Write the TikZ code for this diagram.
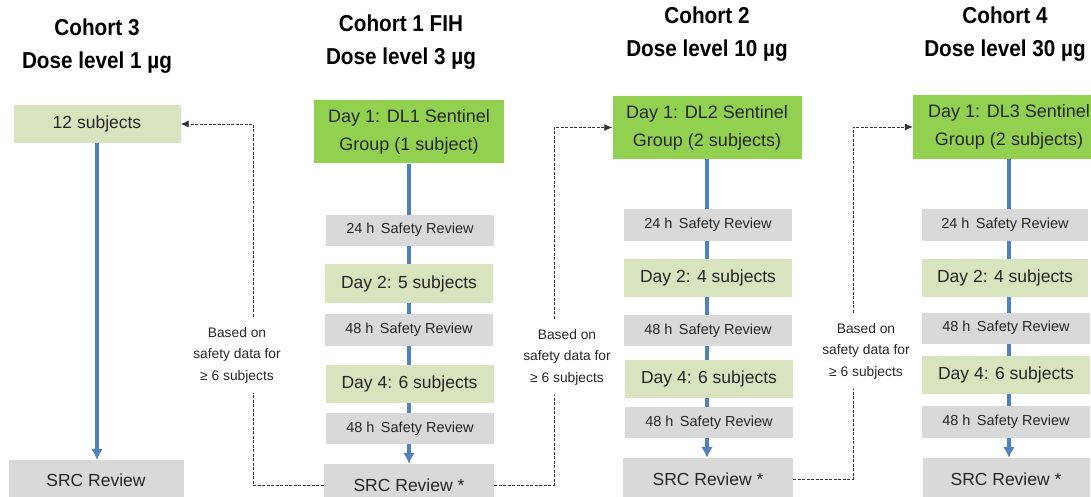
\documentclass[tikz,border=0pt]{standalone}
\usepackage{fontspec}
\setmainfont{Liberation Sans}
\newfontfamily\headfont[FakeStretch=0.9]{Liberation Sans}
\usetikzlibrary{backgrounds,arrows.meta}
\definecolor{sentinelgreen}{HTML}{92D050}
\definecolor{dosegreen}{HTML}{D7E4BD}
\definecolor{reviewgray}{HTML}{D9D9D9}
\definecolor{flowblue}{HTML}{4F81BD}

\begin{document}
\begin{tikzpicture}[x=1pt,y=-1pt,
		head/.style={font=\headfont\bfseries\fontsize{23}{33}\selectfont,align=center},
		sentinel/.style={fill=sentinelgreen,minimum width=189,minimum height=63,inner sep=0,align=center,text=black!85,font=\fontsize{18}{28}\selectfont},
		dose/.style={fill=dosegreen,minimum width=168,minimum height=38,inner sep=0,text=black!85,font=\fontsize{17.5}{20}\selectfont},
		review/.style={fill=reviewgray,minimum width=168,minimum height=31,inner sep=0,text=black!85,font=\fontsize{14.5}{16}\selectfont},
		src/.style={fill=reviewgray,minimum width=170,minimum height=42,inner sep=0,text=black!85,font=\fontsize{17.5}{20}\selectfont},
		note/.style={align=center,inner sep=10,text=black!85,font=\fontsize{13.8}{21.5}\selectfont},
		flow/.style={draw=flowblue,line width=3.5pt,-{Latex[length=11pt,width=12pt]}},
		link/.style={draw=black!80,line width=0.8pt,dash pattern=on 3pt off 1.5pt}]
		\useasboundingbox (0,0) rectangle (1091,497);
		% headings
		\node[head](h3) at (97,46) {Cohort 3\\Dose level 1 µg};
		\node[head](h1) at (401,42) {Cohort 1 FIH\\Dose level 3 µg};
		\node[head](h2) at (707,34) {Cohort 2\\Dose level 10 µg};
		\node[head](h4) at (1005,34) {Cohort 4\\Dose level 30 µg};
		% cohort 3
		\node[dose,minimum width=167](c3sub) at (97,124) {12 subjects};
		\node[src,minimum width=175,minimum height=40](c3src) at (96,480) {SRC Review};
		% cohort 1
		\node[sentinel,minimum width=190](d1a) at (409,132) {Day 1: DL1 Sentinel\\Group (1 subject)};
		\node[review](s24a) at (410,230) {24 h\, Safety Review};
		\node[dose,minimum height=39](d2a) at (409,283.5) {Day 2: 5 subjects};
		\node[review,minimum height=32](s48a) at (409,330) {48 h\, Safety Review};
		\node[dose](d4a) at (409.5,384) {Day 4: 6 subjects};
		\node[review](s48b) at (410,428.5) {48 h\, Safety Review};
		\node[src](srca) at (409,485) {SRC Review *};
		% cohort 2
		\node[sentinel](d1b) at (707,127.5) {Day 1: DL2 Sentinel\\Group (2 subjects)};
		\node[review,minimum height=32](s24b) at (708,225) {24 h\, Safety Review};
		\node[dose](d2b) at (708,278) {Day 2: 4 subjects};
		\node[review](s48c) at (708,330.5) {48 h\, Safety Review};
		\node[dose](d4b) at (709,379) {Day 4: 6 subjects};
		\node[review](s48d) at (709,422.5) {48 h\, Safety Review};
		\node[src](srcb) at (708,479) {SRC Review *};
		% cohort 4
		\node[sentinel,minimum width=192,minimum height=64](d1c) at (1009,127) {Day 1: DL3 Sentinel\\Group (2 subjects)};
		\node[review,minimum width=166,minimum height=32](s24c) at (1005,225) {24 h\, Safety Review};
		\node[dose,minimum width=166](d2c) at (1005,278) {Day 2: 4 subjects};
		\node[review](s48e) at (1006,328) {48 h\, Safety Review};
		\node[dose](d4c) at (1006,375) {Day 4: 6 subjects};
		\node[review,minimum height=32](s48f) at (1006,422) {48 h\, Safety Review};
		\node[src,minimum width=167](srcc) at (1006,479) {SRC Review *};
		% escalation notes
		\node[note](noteA) at (237,355) {Based on\\safety data for\\≥ 6 subjects};
		\node[note](noteB) at (567,357) {Based on\\safety data for\\≥ 6 subjects};
		\node[note](noteC) at (866,351) {Based on\\safety data for\\≥ 6 subjects};
		\begin{scope}[on background layer]
			\draw[flow] (c3sub) -- (c3sub |- c3src.north);
			\draw[flow] (d1a) -- (d1a |- srca.north);
			\draw[flow] (d1b) -- (d1b |- srcb.north);
			\draw[flow] (d1c) -- (d1c |- srcc.north);
		\end{scope}
		\draw[link] (srca.west) -| ([xshift=16]noteA.south);
		\draw[link,-{Latex[length=8pt,width=7pt]}] ([xshift=16]noteA.north) |- (c3sub.east);
		\draw[link] (srca.east) -| ([xshift=-13]noteB.south);
		\draw[link,-{Latex[length=8pt,width=7pt]}] ([xshift=-13]noteB.north) |- (d1b.west);
		\draw[link] (srcb.east) -| ([xshift=-13]noteC.south);
		\draw[link,-{Latex[length=8pt,width=7pt]}] ([xshift=-13]noteC.north) |- (d1c.west);
	\end{tikzpicture}
\end{document}
